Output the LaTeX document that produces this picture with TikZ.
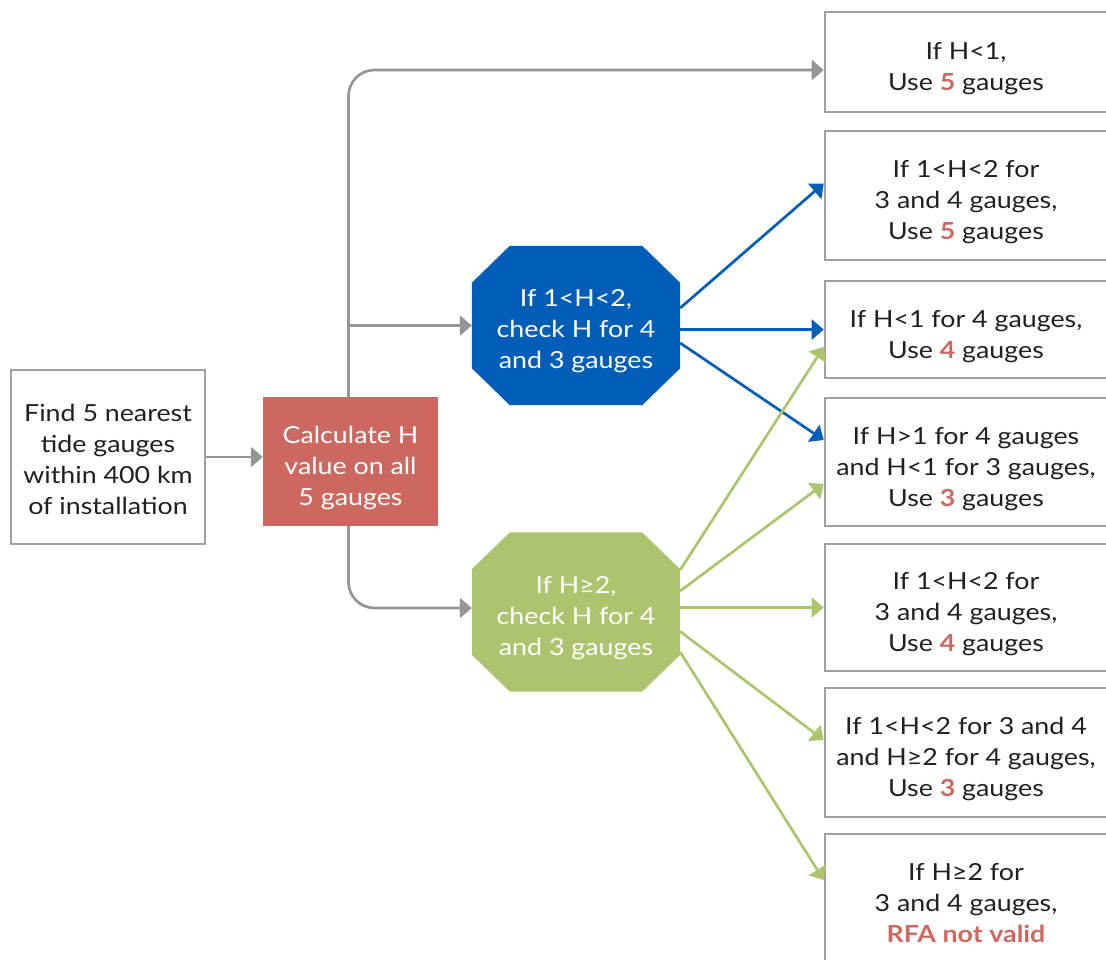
\documentclass[tikz,border=0pt]{standalone}
\usepackage{fontspec}
\setmainfont{Lato}[FakeStretch=1.14]
\usetikzlibrary{arrows.meta,backgrounds}
\definecolor{txt}{HTML}{231F20}
\definecolor{hl}{HTML}{CD6860}
\definecolor{bluec}{HTML}{005EB8}
\definecolor{greenc}{HTML}{ABC46D}
\definecolor{redc}{HTML}{CD6860}
\definecolor{arrgray}{HTML}{939598}
\definecolor{boxgray}{HTML}{A0A0A2}
\tikzset{
  x=1pt, y=-1pt,
  every node/.style={font=\fontsize{23.5}{31}\selectfont, text=txt, align=center, inner sep=0pt},
  outbox/.style={draw=boxgray, line width=2.6pt, minimum width=282pt},
  octo/.style={rectangle, minimum width=208pt, minimum height=159pt, text=white},
  tip/.style={-{Triangle[length=12pt,width=20pt]}},
  grayarr/.style={tip, draw=arrgray, line width=2.7pt},
  bluearr/.style={tip, draw=bluec, line width=2.7pt},
  greenarr/.style={tip, draw=greenc, line width=2.7pt},
}
\newcommand{\hn}[1]{{\color{hl}\bfseries #1}}
\newcommand{\tx}[2][-7pt]{\raisebox{#1}[\height][\depth]{\begin{tabular}{@{}c@{}}#2\end{tabular}}}
\newcommand{\octofill}[2]{%
  \fill[#2] ([xshift=38pt]#1.north west) -- ([xshift=-38pt]#1.north east)
    -- ([yshift=-37pt]#1.north east) -- ([yshift=37pt]#1.south east)
    -- ([xshift=-38pt]#1.south east) -- ([xshift=38pt]#1.south west)
    -- ([yshift=37pt]#1.south west) -- ([yshift=-37pt]#1.north west) -- cycle;}
\begin{document}
\begin{tikzpicture}
\useasboundingbox (0,0) rectangle (1106,959);
\clip (0,0) rectangle (1106,959);
% left box
\node[draw=boxgray, line width=2.6pt, minimum width=194pt, minimum height=174pt] (find) at (108,457)
  {\tx[-5pt]{Find 5 nearest\\tide gauges\\within 400 km\\of installation}};
\node[fill=redc, text=white, minimum width=175pt, minimum height=129pt] (calc) at (350.5,461.5)
  {\tx{Calculate H\\value on all\\5 gauges}};
\coordinate (calctop) at ([xshift=-2pt]calc.north);
\coordinate (calcbot) at ([xshift=-2pt]calc.south);
% octagons
\node[octo] (blue) at (576,325.5) {\tx[-6pt]{If 1<H<2,\\check H for 4\\and 3 gauges}};
\node[octo] (green) at (576,612) {\tx[-6pt]{If H≥2,\\check H for 4\\and 3 gauges}};
\begin{scope}[on background layer]
\octofill{blue}{bluec}
\octofill{green}{greenc}
\end{scope}
% right boxes
\node[outbox, minimum height=100pt] (b1) at (966,62) {\tx{If H<1,\\Use \hn{5} gauges}};
\node[outbox, minimum height=129pt] (b2) at (966,195.5) {\tx{If 1<H<2 for\\3 and 4 gauges,\\Use \hn{5} gauges}};
\node[outbox, minimum height=97pt] (b3) at (966,329.5) {\tx{If H<1 for 4 gauges,\\Use \hn{4} gauges}};
\node[outbox, minimum height=128pt] (b4) at (966,462) {\tx{If H>1 for 4 gauges\\and H<1 for 3 gauges,\\Use \hn{3} gauges}};
\node[outbox, minimum height=127pt] (b5) at (966,607.5) {\tx{If 1<H<2 for\\3 and 4 gauges,\\Use \hn{4} gauges}};
\node[outbox, minimum height=129pt] (b6) at (966,752.5) {\tx{If 1<H<2 for 3 and 4\\and H≥2 for 4 gauges,\\Use \hn{3} gauges}};
\node[outbox, minimum height=129pt] (b7) at (966,898.5) {\tx{If H≥2 for\\3 and 4 gauges,\\\hn{RFA not valid}}};
% gray connectors
\draw[grayarr] (find.east) -- (find.east -| calc.west);
\draw[grayarr, rounded corners=26pt] (calctop) |- ([yshift=-8pt]b1.west);
\draw[grayarr, rounded corners=26pt] (calcbot) |- ([yshift=4pt]green.west);
\draw[grayarr] (calctop |- blue.west) -- (blue.west);
% blue connectors
\draw[bluearr] ([yshift=17.5pt]blue.east) -- ([yshift=12pt]b2.west);
\draw[bluearr] (blue.east |- b3.west) -- (b3.west);
\draw[bluearr] ([yshift=-17.5pt]blue.east) -- ([yshift=22pt]b4.west);
% green connectors
\draw[greenarr] ([yshift=42pt]green.east) -- ([yshift=-17.5pt]b3.west);
\draw[greenarr] ([yshift=21pt]green.east) -- ([yshift=-22pt]b4.west);
\draw[greenarr] (green.east |- b5.west) -- (b5.west);
\draw[greenarr] ([yshift=-19.5pt]green.east) -- ([yshift=12.5pt]b6.west);
\draw[greenarr] ([yshift=-40pt]green.east) -- ([yshift=18.5pt]b7.west);
\end{tikzpicture}
\end{document}
